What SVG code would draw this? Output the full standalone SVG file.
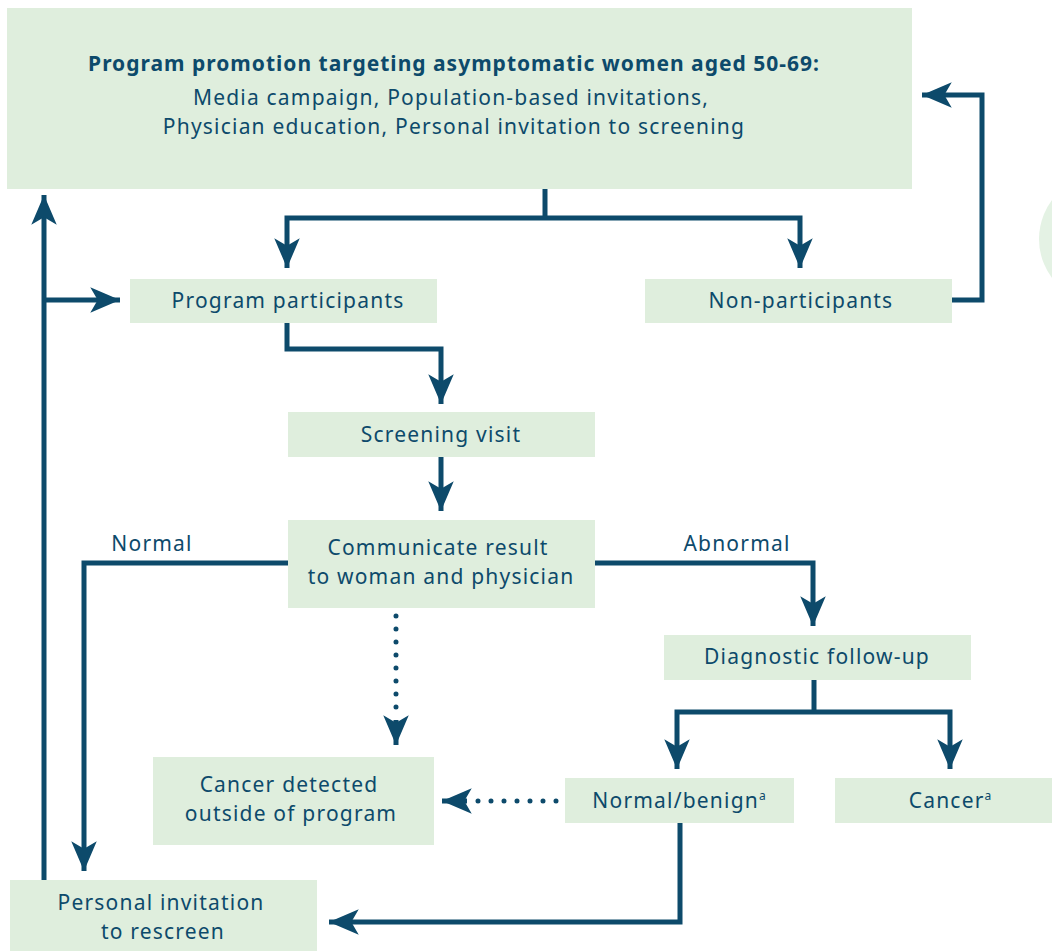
<svg xmlns="http://www.w3.org/2000/svg" width="1052" height="951" viewBox="0 0 1052 951">
<style>
.box{fill:#dfeedd;}
.t{font-family:"Noto Sans","Open Sans",sans-serif;font-size:21px;letter-spacing:1.2px;fill:#0d4a6b;text-anchor:middle;}
.b{font-weight:bold;letter-spacing:1px;}
.ln{fill:none;stroke:#0d4a6b;stroke-width:5;stroke-linejoin:miter;}
.dot{fill:none;stroke:#0d4a6b;stroke-width:5;stroke-linecap:round;stroke-dasharray:0 13;}
.sup{font-size:12px;letter-spacing:0;}
</style>
<defs>
<marker id="ah" markerUnits="userSpaceOnUse" markerWidth="34" markerHeight="30" viewBox="-30 -14 32 28" refX="0" refY="0" orient="auto">
<path d="M0,0 L-28,-12 L-21,0 L-28,12 Z" fill="#0d4a6b"/>
</marker>
</defs>
<rect x="0" y="0" width="1052" height="951" fill="#ffffff"/>
<circle cx="1104" cy="239" r="65" fill="#e4f2e4"/>
<g id="connectors">
<path class="ln" d="M545,189 V218"/>
<path class="ln" d="M545,218 H287 V268" marker-end="url(#ah)"/>
<path class="ln" d="M545,218 H800 V268" marker-end="url(#ah)"/>
<path class="ln" d="M952,300 H982 V95 H922" marker-end="url(#ah)"/>
<path class="ln" d="M44,880 V195" marker-end="url(#ah)"/>
<path class="ln" d="M44,300 H120" marker-end="url(#ah)"/>
<path class="ln" d="M287,323 V349 H441 V404" marker-end="url(#ah)"/>
<path class="ln" d="M441,457 V511" marker-end="url(#ah)"/>
<path class="ln" d="M288,563 H84 V871" marker-end="url(#ah)"/>
<path class="ln" d="M595,563 H813 V626" marker-end="url(#ah)"/>
<path class="ln" d="M814,680 V712"/>
<path class="ln" d="M814,712 H677 V769" marker-end="url(#ah)"/>
<path class="ln" d="M814,712 H950 V769" marker-end="url(#ah)"/>
<path class="ln" d="M680,823 V922 H329" marker-end="url(#ah)"/>
<path class="dot" d="M396,616 V720"/>
<path class="ln" d="M396,720 V745" stroke-width="0" marker-end="url(#ah)"/>
<path class="dot" d="M556,801 H467"/>
<path class="ln" d="M467,801 H442" stroke-width="0" marker-end="url(#ah)"/>
</g>
<g id="n-promotion">
<rect class="box" x="7" y="8" width="905" height="181"/>
<text class="t b" x="454" y="71">Program promotion targeting asymptomatic women aged 50-69:</text>
<text class="t" x="451" y="105">Media campaign, Population-based invitations,</text>
<text class="t" x="454" y="134">Physician education, Personal invitation to screening</text>
</g>
<g id="n-participants">
<rect class="box" x="130" y="279" width="307" height="44"/>
<text class="t" x="288" y="308">Program participants</text>
</g>
<g id="n-nonparticipants">
<rect class="box" x="645" y="279" width="307" height="44"/>
<text class="t" x="801" y="308">Non-participants</text>
</g>
<g id="n-screening">
<rect class="box" x="288" y="412" width="307" height="45"/>
<text class="t" x="441" y="442">Screening visit</text>
</g>
<g id="n-communicate">
<rect class="box" x="288" y="520" width="307" height="88"/>
<text class="t" x="438" y="555">Communicate result</text>
<text class="t" x="441" y="584">to woman and physician</text>
</g>
<g id="n-diagnostic">
<rect class="box" x="664" y="635" width="307" height="45"/>
<text class="t" x="817" y="664">Diagnostic follow-up</text>
</g>
<g id="n-outside">
<rect class="box" x="153" y="757" width="281" height="88"/>
<text class="t" x="289" y="792">Cancer detected</text>
<text class="t" x="291" y="821">outside of program</text>
</g>
<g id="n-benign">
<rect class="box" x="565" y="778" width="229" height="45"/>
<text class="t" x="679" y="808">Normal/benign<tspan class="sup" dy="-8">a</tspan></text>
</g>
<g id="n-cancer">
<rect class="box" x="835" y="778" width="217" height="45"/>
<text class="t" x="950" y="808">Cancer<tspan class="sup" dy="-8">a</tspan></text>
</g>
<g id="n-rescreen">
<rect class="box" x="10" y="880" width="307" height="71"/>
<text class="t" x="161" y="910">Personal invitation</text>
<text class="t" x="163" y="939">to rescreen</text>
</g>
<g id="labels">
<text class="t" x="152" y="551">Normal</text>
<text class="t" x="737" y="551">Abnormal</text>
</g>
</svg>
